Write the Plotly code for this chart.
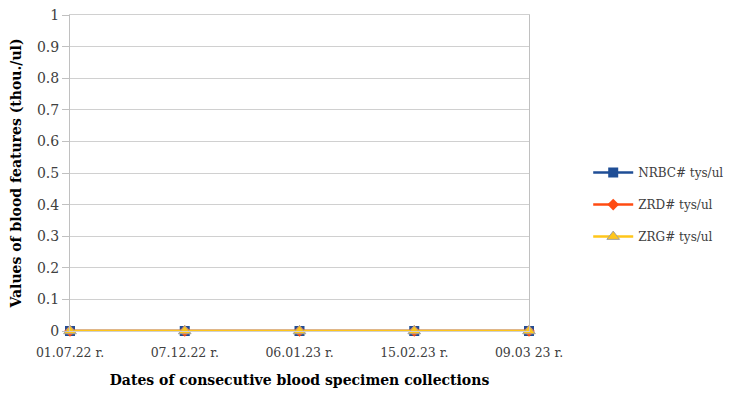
import plotly.graph_objects as go

dates = ["01.07.22 r.", "07.12.22 r.", "06.01.23 r.", "15.02.23 r.", "09.03 23 r."]
nrbc = [0, 0, 0, 0, 0]
zrd = [0, 0, 0, 0, 0]
zrg = [0, 0, 0, 0, 0]
y_ticks = [0, 0.1, 0.2, 0.3, 0.4, 0.5, 0.6, 0.7, 0.8, 0.9, 1]
y_tick_text = ["0", "0.1", "0.2", "0.3", "0.4", "0.5", "0.6", "0.7", "0.8", "0.9", "1"]

font = "DejaVu Serif"
fig = go.Figure()
fig.add_trace(go.Scatter(x=dates, y=nrbc, name="NRBC# tys/ul", mode="lines+markers",
                         legendgroup="a",
                         line=dict(color="#1F4E96", width=2.5),
                         marker=dict(symbol="square", size=10, color="#1F4E96")))
fig.add_trace(go.Scatter(x=dates, y=zrd, name="ZRD# tys/ul", mode="lines+markers",
                         legendgroup="b",
                         line=dict(color="#FF4B12", width=2.5),
                         marker=dict(symbol="diamond", size=9, color="#FF4B12")))
fig.add_trace(go.Scatter(x=dates, y=zrg, name="ZRG# tys/ul", mode="lines+markers",
                         legendgroup="c",
                         line=dict(color="#FFC61A", width=2.5),
                         marker=dict(symbol="triangle-up", size=11, color="#FFC61A",
                                     line=dict(color="#A0A0A0", width=1))))

fig.update_layout(
    width=735, height=394,
    margin=dict(l=70, r=206, t=15, b=63, autoexpand=False),
    paper_bgcolor="white", plot_bgcolor="white",
    font=dict(family=font, size=13, color="#404040"),
    legend=dict(x=1.129, y=0.40, xanchor="left", yanchor="middle",
                font=dict(family=font, size=12, color="#404040"),
                tracegroupgap=13, itemwidth=40),
    xaxis=dict(
        range=[0, 4], showgrid=False, zeroline=False, automargin=False,
        showline=True, linecolor="#D0D0D0", linewidth=1, mirror=True,
        ticks="outside", ticklen=10, tickcolor="rgba(0,0,0,0)",
        tickfont=dict(size=12.5),
        title=dict(text="<b>Dates of consecutive blood specimen collections</b>",
                   font=dict(family=font, size=14, color="#000000"), standoff=16),
    ),
    yaxis=dict(
        range=[0, 1], tickvals=y_ticks, ticktext=y_tick_text, automargin=False,
        showgrid=True, gridcolor="#D0D0D0", gridwidth=1, zeroline=False,
        showline=True, linecolor="#C0C0C0", linewidth=1, mirror=True,
        ticks="outside", ticklen=7, tickcolor="#C0C0C0",
        tickfont=dict(size=14),
        title=dict(text="<b>Values of blood features (thou./ul)</b>",
                   font=dict(family=font, size=14, color="#000000"), standoff=12),
    ),
)
fig.update_traces(cliponaxis=False)
fig.write_html("out.html", config={"displayModeBar": False},
               post_script="document.body.style.margin='0px';")
